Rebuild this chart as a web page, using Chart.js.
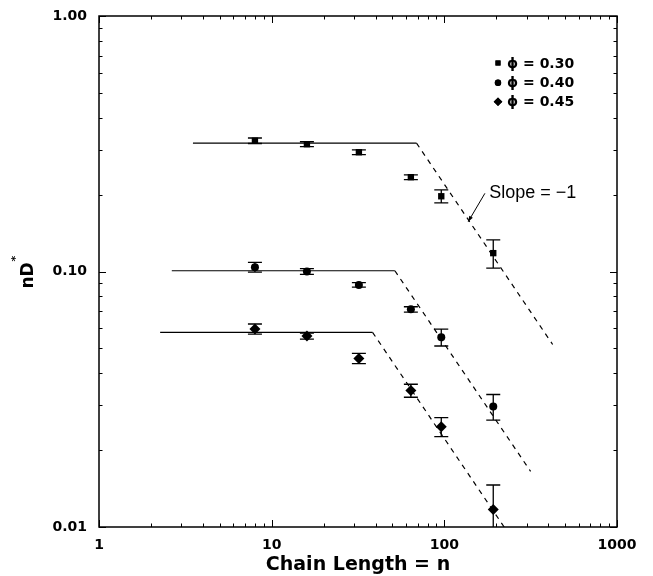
<!DOCTYPE html>
<html>
<head>
<meta charset="utf-8">
<script src="https://cdn.jsdelivr.net/npm/chart.js@4.4.1/dist/chart.umd.min.js"></script>
<style>
  html, body { margin: 0; padding: 0; background: #fff; }
</style>
</head>
<body>
<canvas id="chart" width="653" height="576"></canvas>
<script>
// data
const chainLength = [8, 16, 32, 64, 96, 192];

const phi030 = [0.325, 0.315, 0.293, 0.234, 0.197, 0.118];
const phi030Err = [0.008, 0.007, 0.0065, 0.005, 0.0115, 0.015];

const phi040 = [0.104, 0.100, 0.0886, 0.0711, 0.0553, 0.0296];
const phi040Err = [0.0045, 0.0026, 0.0018, 0.0017, 0.0042, 0.0034];

const phi045 = [0.0596, 0.0559, 0.0457, 0.0342, 0.0247, 0.0117];
const phi045Err = [0.0027, 0.0015, 0.0021, 0.002, 0.0021, 0.0029];

// plateau + slope -1 guide lines: [start, break, end]
const fit030X = [3.5, 69, 424];
const fit030Y = [0.318, 0.318, 0.0518];
const fit040X = [2.64, 51.7, 316];
const fit040Y = [0.1007, 0.1007, 0.0165];
const fit045X = [2.26, 38.4, 222];
const fit045Y = [0.0578, 0.0578, 0.01];

const seriesLabels = ["\u03D5 = 0.30", "\u03D5 = 0.40", "\u03D5 = 0.45"];
const xTickLabels = ["1", "10", "100", "1000"];
const yTickLabels = ["0.01", "0.10", "1.00"];

const slopeNote = { text: "Slope = \u22121", textX: 182, textY: 0.1934, tailX: 171.8, tailY: 0.2023, tipX: 137.5, tipY: 0.1567 };

const BOLD = '"DejaVu Sans", sans-serif';
const PLAIN = '"Liberation Sans", Arial, sans-serif';

const toPts = (xs, ys) => xs.map((x, i) => ({ x, y: ys[i] }));

function points(label, ys, errs, style, r) {
  return {
    label,
    data: toPts(chainLength, ys),
    errors: errs,
    pointStyle: style,
    pointRadius: r,
    pointBackgroundColor: "#000",
    pointBorderWidth: 0,
    showLine: false,
  };
}

function guide(xs, ys, from, to, dash) {
  return {
    data: toPts(xs.slice(from, to + 1), ys.slice(from, to + 1)),
    showLine: true,
    pointRadius: 0,
    borderColor: "#000",
    borderWidth: 1.2,
    borderDash: dash,
  };
}

function isDecade(v) {
  const l = Math.log10(v);
  return Math.abs(l - Math.round(l)) < 1e-9;
}

function logTicks(min, max) {
  const out = [];
  const e0 = Math.round(Math.log10(min));
  const e1 = Math.round(Math.log10(max));
  for (let e = e0; e < e1; e++) {
    for (let m = 1; m < 10; m++) out.push({ v: m * Math.pow(10, e), major: m === 1 });
  }
  out.push({ v: max, major: true });
  return out;
}

const errorBars = {
  id: "errorBars",
  afterDatasetsDraw(chart) {
    const { ctx, chartArea: a, scales: { x, y } } = chart;
    ctx.save();
    ctx.beginPath();
    ctx.rect(a.left, a.top, a.right - a.left, a.bottom - a.top);
    ctx.clip();
    ctx.strokeStyle = "#000";
    ctx.lineWidth = 1.3;
    chart.data.datasets.forEach((ds) => {
      if (!ds.errors) return;
      ds.data.forEach((p, i) => {
        const px = x.getPixelForValue(p.x);
        const y1 = y.getPixelForValue(p.y + ds.errors[i]);
        const y2 = y.getPixelForValue(p.y - ds.errors[i]);
        ctx.beginPath();
        ctx.moveTo(px, y1);
        ctx.lineTo(px, y2);
        ctx.moveTo(px - 7, y1);
        ctx.lineTo(px + 7, y1);
        ctx.moveTo(px - 7, y2);
        ctx.lineTo(px + 7, y2);
        ctx.stroke();
      });
    });
    ctx.restore();
  },
};

const frame = {
  id: "frame",
  afterDraw(chart) {
    const { ctx, chartArea: a, scales: { x, y } } = chart;
    ctx.save();
    ctx.strokeStyle = "#000";
    ctx.lineWidth = 1.5;
    ctx.strokeRect(a.left, a.top, a.right - a.left, a.bottom - a.top);
    ctx.lineWidth = 1;
    ctx.beginPath();
    logTicks(x.min, x.max).forEach((t) => {
      const px = Math.round(x.getPixelForValue(t.v)) + 0.5;
      const len = t.major ? 7 : 3.5;
      ctx.moveTo(px, a.bottom);
      ctx.lineTo(px, a.bottom - len);
      ctx.moveTo(px, a.top);
      ctx.lineTo(px, a.top + len);
    });
    logTicks(y.min, y.max).forEach((t) => {
      const py = Math.round(y.getPixelForValue(t.v)) + 0.5;
      const len = t.major ? 7 : 3.5;
      ctx.moveTo(a.left, py);
      ctx.lineTo(a.left + len, py);
      ctx.moveTo(a.right, py);
      ctx.lineTo(a.right - len, py);
    });
    ctx.stroke();
    ctx.restore();
  },
};

const legendBox = {
  id: "legendBox",
  afterDraw(chart) {
    const { ctx, chartArea: a } = chart;
    const mx = a.right - 119;
    const rows = [a.top + 47, a.top + 66.7, a.top + 85.7];
    const sizes = [3.6, 3.2, 4.3];
    ctx.save();
    ctx.fillStyle = "#000";
    ctx.font = "bold 14px " + BOLD;
    ctx.textBaseline = "middle";
    ctx.textAlign = "left";
    chart.data.datasets.filter((d) => d.errors).forEach((ds, i) => {
      Chart.helpers.drawPoint(ctx, { pointStyle: ds.pointStyle, radius: sizes[i], borderWidth: 0 }, mx, rows[i]);
      ctx.fill();
      ctx.fillText(ds.label, mx + 9, rows[i] + 1);
    });
    ctx.restore();
  },
};

const annotate = {
  id: "annotate",
  afterDraw(chart) {
    const { ctx, scales: { x, y } } = chart;
    const tx = x.getPixelForValue(slopeNote.tailX), ty = y.getPixelForValue(slopeNote.tailY);
    const hx = x.getPixelForValue(slopeNote.tipX), hy = y.getPixelForValue(slopeNote.tipY);
    ctx.save();
    ctx.strokeStyle = "#000";
    ctx.fillStyle = "#000";
    ctx.lineWidth = 1;
    ctx.beginPath();
    ctx.moveTo(tx, ty);
    ctx.lineTo(hx, hy);
    ctx.stroke();
    const ang = Math.atan2(hy - ty, hx - tx);
    ctx.beginPath();
    ctx.moveTo(hx, hy);
    ctx.lineTo(hx - 6 * Math.cos(ang - 0.35), hy - 6 * Math.sin(ang - 0.35));
    ctx.lineTo(hx - 6 * Math.cos(ang + 0.35), hy - 6 * Math.sin(ang + 0.35));
    ctx.closePath();
    ctx.fill();
    ctx.font = "18px " + PLAIN;
    ctx.textBaseline = "alphabetic";
    ctx.fillText(slopeNote.text, x.getPixelForValue(slopeNote.textX), y.getPixelForValue(slopeNote.textY));

    // y axis title nD*
    const a = chart.chartArea;
    ctx.translate(33, (a.top + a.bottom) / 2 + 4);
    ctx.rotate(-Math.PI / 2);
    ctx.font = "bold 17px " + BOLD;
    ctx.textAlign = "center";
    ctx.fillText("nD", 0, 0);
    const w = ctx.measureText("nD").width;
    ctx.font = "bold 11px " + BOLD;
    ctx.textAlign = "left";
    ctx.fillText("*", w / 2 + 1, -14);
    ctx.restore();
  },
};

const tickFont = { family: BOLD, size: 14, weight: "bold" };

new Chart(document.getElementById("chart"), {
  type: "scatter",
  data: {
    datasets: [
      points(seriesLabels[0], phi030, phi030Err, "rect", 4.5),
      points(seriesLabels[1], phi040, phi040Err, "circle", 4),
      points(seriesLabels[2], phi045, phi045Err, "rectRot", 5.5),
      guide(fit030X, fit030Y, 0, 1, []),
      guide(fit030X, fit030Y, 1, 2, [5, 5]),
      guide(fit040X, fit040Y, 0, 1, []),
      guide(fit040X, fit040Y, 1, 2, [5, 5]),
      guide(fit045X, fit045Y, 0, 1, []),
      guide(fit045X, fit045Y, 1, 2, [5, 5]),
    ],
  },
  options: {
    responsive: false,
    animation: false,
    devicePixelRatio: 1,
    layout: { padding: { top: 16, right: 36, left: 0, bottom: 0 } },
    plugins: {
      legend: { display: false },
      tooltip: { enabled: false },
    },
    scales: {
      x: {
        type: "logarithmic",
        min: 1,
        max: 1000,
        grid: { display: false, drawTicks: false },
        border: { display: false },
        ticks: {
          autoSkip: false,
          maxRotation: 0,
          padding: 10,
          color: "#000",
          font: tickFont,
          callback: (v) => (isDecade(v) ? xTickLabels[Math.round(Math.log10(v))] : ""),
        },
        title: {
          display: true,
          text: "Chain Length = n",
          color: "#000",
          font: { family: BOLD, size: 19, weight: "bold" },
          padding: { top: 0, bottom: 0 },
        },
        afterFit: (s) => {
          s.height = 49;
          s.paddingLeft = 0;
          s.paddingRight = 0;
        },
      },
      y: {
        type: "logarithmic",
        min: 0.01,
        max: 1,
        grid: { display: false, drawTicks: false },
        border: { display: false },
        ticks: {
          autoSkip: false,
          padding: 12,
          color: "#000",
          font: tickFont,
          callback: (v) => (isDecade(v) ? yTickLabels[Math.round(Math.log10(v)) + 2] : ""),
        },
        afterFit: (s) => {
          s.width = 99;
          s.paddingTop = 0;
          s.paddingBottom = 0;
        },
      },
    },
  },
  plugins: [errorBars, frame, legendBox, annotate],
});
</script>
</body>
</html>
